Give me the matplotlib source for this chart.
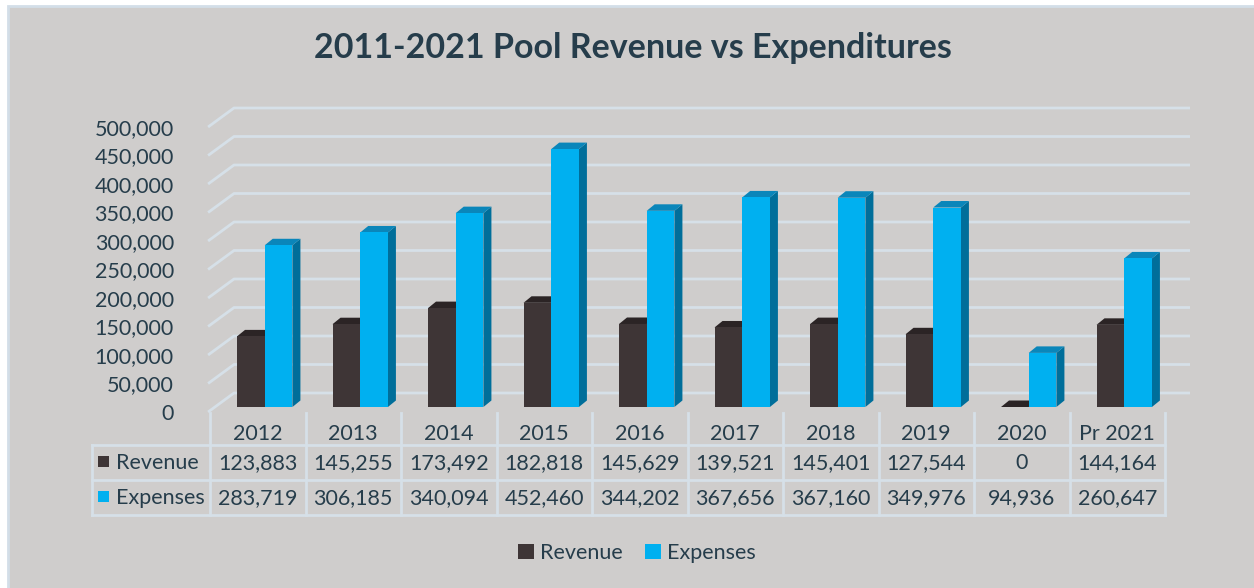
import matplotlib.pyplot as plt
from matplotlib.patches import Rectangle, Polygon
from matplotlib.transforms import blended_transform_factory

years = ["2012", "2013", "2014", "2015", "2016", "2017", "2018", "2019", "2020", "Pr 2021"]
revenue = [123883, 145255, 173492, 182818, 145629, 139521, 145401, 127544, 0, 144164]
expenses = [283719, 306185, 340094, 452460, 344202, 367656, 367160, 349976, 94936, 260647]
yticks = [0, 50000, 100000, 150000, 200000, 250000, 300000, 350000, 400000, 450000, 500000]

BG = '#CFCDCC'
TXT = '#263D4B'
REV = ['#3E3536', '#2B2425', '#2B2425']      # front, top, side
EXP = ['#00B0F0', '#0A86BA', '#006E9A']
GRID = '#D6E0E8'
FONT = 'Lato'

W, H = 1254, 588
fig = plt.figure(figsize=(W / 100, H / 100), dpi=100, facecolor='white')

# full-figure overlay in pixel coords for background, table and title
over = fig.add_axes([0, 0, 1, 1], zorder=0)
over.set_xlim(0, W)
over.set_ylim(H, 0)
over.axis('off')
over.add_patch(Rectangle((8, 6), W, H, facecolor=BG, edgecolor='#D3DEE8', lw=2))

# chart axes: front plane, x in categories, y in values
px_per_cat = 95.5
px_per_val = 0.57 / 1000
ax_left, ax_right, ax_bottom, ax_top = 210, 1190, 412, 100
ax = fig.add_axes([ax_left / W, 1 - ax_bottom / H, (ax_right - ax_left) / W, (ax_bottom - ax_top) / H], zorder=2)
ax.set_xlim(-0.5, -0.5 + (ax_right - ax_left) / px_per_cat)
ax.set_ylim(0, (ax_bottom - ax_top) / px_per_val)
ax.patch.set_alpha(0)
for s in ax.spines.values():
    s.set_visible(False)
ax.set_xticks([])

# depth offsets (wall and bars), converted from pixels
wall_dx, wall_dy = 24 / px_per_cat, 19 / px_per_val
bar_dx, bar_dy = 6 / px_per_cat, 5 / px_per_val
side_dx, side_dy = 8 / px_per_cat, 6.5 / px_per_val

x_end = ax.get_xlim()[1]
for v in yticks:
    ax.plot([-0.52, -0.5 + wall_dx, x_end], [v, v + wall_dy, v + wall_dy],
            color=GRID, lw=2, clip_on=False, zorder=1, solid_capstyle='butt')
ax.set_yticks(yticks)
ax.set_yticklabels([f"{v:,}" for v in yticks], fontsize=15.5, color=TXT, family=FONT)
ax.tick_params(axis='y', length=0, pad=26)
for t in ax.get_yticklabels():
    t.set_y(t.get_position()[1])


def draw_bar(x0, x1, v, cols):
    y0 = bar_dy
    y1 = bar_dy + v
    ax.add_patch(Polygon([(x1, y0), (x1 + side_dx, y0 + side_dy), (x1 + side_dx, y1 + side_dy), (x1, y1)],
                         closed=True, facecolor=cols[2], edgecolor='none', zorder=3))
    ax.add_patch(Polygon([(x0, y1), (x0 + side_dx, y1 + side_dy), (x1 + side_dx, y1 + side_dy), (x1, y1)],
                         closed=True, facecolor=cols[1], edgecolor='none', zorder=3))
    ax.add_patch(Rectangle((x0, y0), x1 - x0, v, facecolor=cols[0], edgecolor='none', zorder=3))


bw = 0.29
for i in range(len(years)):
    left = i - 0.5 + 0.283
    draw_bar(left, left + bw, revenue[i], REV)
    draw_bar(left + bw, left + 2 * bw, expenses[i], EXP)

# data table below the chart
tr = blended_transform_factory(ax.transData, over.transData)
n = len(years)
row_hdr, row_rev, row_exp, row_bot = 413, 445, 480, 515
tbl_left_px = 92
lc = GRID
for i in range(n + 1):
    x = i - 0.5
    over.plot([x, x], [row_hdr, row_bot], transform=tr, color=lc, lw=2, zorder=1)
over.plot([tbl_left_px, tbl_left_px], [row_rev, row_bot], color=lc, lw=2, zorder=1)
for y in (row_rev, row_exp, row_bot):
    over.plot([tbl_left_px, ax_left + n * px_per_cat], [y, y], color=lc, lw=2, zorder=1)

for i in range(n):
    over.text(i, 434, years[i], transform=tr, ha='center', va='center', fontsize=15.5, color=TXT, family=FONT)
    over.text(i, 463, f"{revenue[i]:,}", transform=tr, ha='center', va='center', fontsize=15.5, color=TXT, family=FONT)
    over.text(i, 498, f"{expenses[i]:,}", transform=tr, ha='center', va='center', fontsize=15.5, color=TXT, family=FONT)

over.add_patch(Rectangle((98, 456), 11, 11, facecolor=REV[0], edgecolor='none'))
over.add_patch(Rectangle((98, 491), 11, 11, facecolor=EXP[0], edgecolor='none'))
over.text(116, 463, "Revenue", ha='left', va='center', fontsize=15.5, color=TXT, family=FONT)
over.text(116, 498, "Expenses", ha='left', va='center', fontsize=15.5, color=TXT, family=FONT)

# title
over.text(633, 48, "2011-2021 Pool Revenue vs Expenditures", ha='center', va='center',
          fontsize=24.5, fontweight='bold', color=TXT, family=FONT)

# legend
handles = [Rectangle((0, 0), 1, 1, facecolor=REV[0]), Rectangle((0, 0), 1, 1, facecolor=EXP[0])]
fig.legend(handles, ["Revenue", "Expenses"], loc='center', bbox_to_anchor=(637 / W, 1 - 553 / H),
           ncol=2, frameon=False, handlelength=0.75, handleheight=0.75, handletextpad=0.3,
           columnspacing=1.0, prop={'family': FONT, 'size': 15.5}, labelcolor=TXT)

fig.savefig('out.png', dpi=100, facecolor='white')
